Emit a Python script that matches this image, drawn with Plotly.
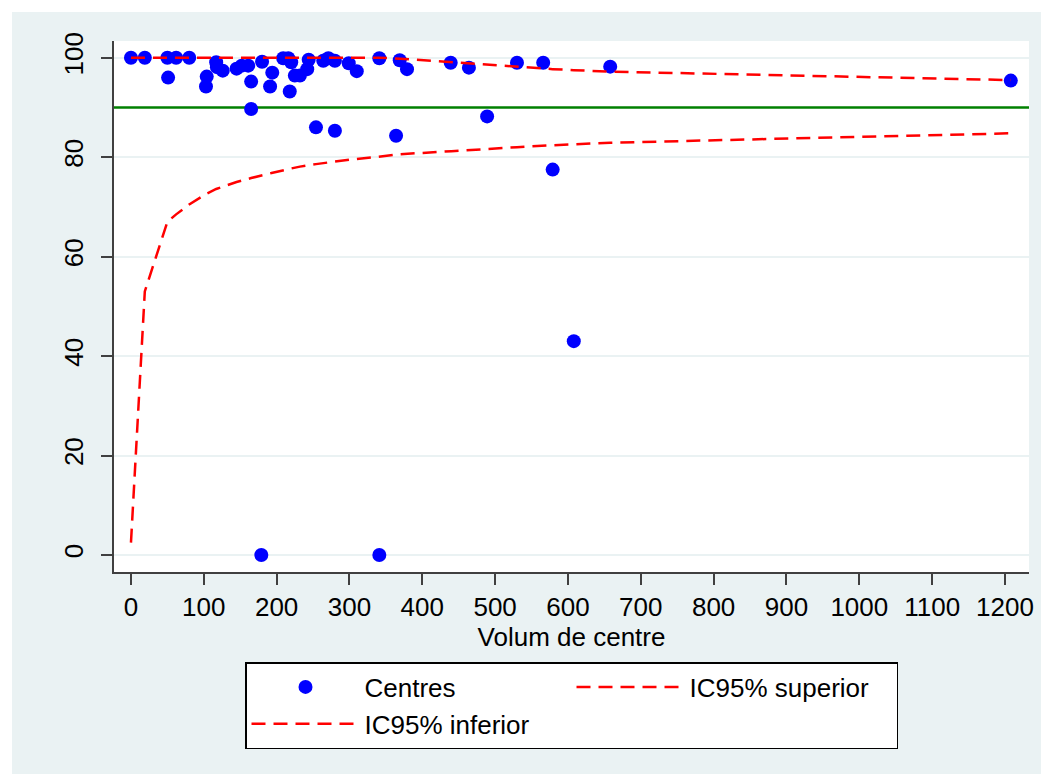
import plotly.graph_objects as go

# ---- data ----
volume = [0, 19, 50, 62, 80, 51, 104, 103, 117, 118, 126, 145, 152, 161, 165, 165,
          180, 194, 191, 209, 216, 220, 218, 225, 232, 242, 244, 264, 271, 280, 299,
          310, 341, 369, 379, 439, 464, 530, 566, 658, 1208, 254, 280, 364, 489, 579,
          608, 179, 341]
percent = [100, 100, 100, 100, 100, 96.0, 96.2, 94.2, 99.1, 98.1, 97.4, 97.8, 98.4, 98.4,
           95.2, 89.7, 99.2, 97.0, 94.2, 99.9, 99.9, 99.1, 93.2, 96.4, 96.4, 97.7, 99.6,
           99.4, 99.9, 99.4, 98.9, 97.3, 99.9, 99.5, 97.7, 99.0, 98.0, 99.0, 99.0, 98.2,
           95.4, 86.0, 85.3, 84.3, 88.2, 77.5, 43.0, 0, 0]

ci_x = [0, 19, 50, 62, 80, 103, 117, 145, 165, 180, 193, 216, 232, 254, 280, 300,
        340, 370, 440, 489, 530, 579, 608, 658, 1208]
ci_upper = [100, 100, 100, 100, 100, 100, 100, 100, 100, 100, 100, 100, 100, 100, 100,
            100, 100, 99.8, 99.1, 98.6, 98.1, 97.7, 97.5, 97.2, 95.5]
ci_lower = [2.5, 53.0, 67.0, 68.5, 70.5, 72.6, 73.6, 75.0, 75.8, 76.4, 76.8, 77.6, 78.1,
            78.6, 79.1, 79.5, 80.1, 80.6, 81.2, 81.7, 82.0, 82.4, 82.6, 82.9, 84.8]

target = 90
x_ticks = [0, 100, 200, 300, 400, 500, 600, 700, 800, 900, 1000, 1100, 1200]
y_ticks = [0, 20, 40, 60, 80, 100]

BG = "#EAF2F3"
AXIS = "#404040"
FONT = "Liberation Sans, Arial, sans-serif"
FS = 26

fig = go.Figure()
fig.add_trace(go.Scatter(
    x=volume, y=percent, mode="markers", name="Centres",
    marker=dict(color="#0000FF", size=14, line=dict(width=0)),
))
fig.add_trace(go.Scatter(
    x=ci_x, y=ci_upper, mode="lines", name="IC95% superior",
    line=dict(color="#FF0000", width=2.5, dash="14px,8px"),
))
fig.add_trace(go.Scatter(
    x=ci_x, y=ci_lower, mode="lines", name="IC95% inferior",
    line=dict(color="#FF0000", width=2.5, dash="14px,8px"),
))

# target reference line
fig.add_shape(type="line", xref="paper", x0=0, x1=1, yref="y", y0=target, y1=target,
              line=dict(color="#008000", width=2.5), layer="below")

# white outer border strips (top / left)
W, H = 1041, 774
L, R, T, B = 114, 12, 41, 202
pw, ph = W - L - R, H - T - B
def px_x(p):
    return (p - L) / pw
def px_y(p):
    return (H - B - p) / ph
fig.add_shape(type="rect", xref="paper", yref="paper", x0=px_x(0), x1=px_x(W),
              y0=px_y(12), y1=px_y(0), fillcolor="white", line=dict(width=0), layer="below")
fig.add_shape(type="rect", xref="paper", yref="paper", x0=px_x(0), x1=px_x(12),
              y0=px_y(H), y1=px_y(0), fillcolor="white", line=dict(width=0), layer="below")

fig.update_layout(
    width=W, height=H,
    margin=dict(l=L, r=R, t=T, b=B, autoexpand=False),
    paper_bgcolor=BG, plot_bgcolor="white",
    font=dict(family=FONT, size=FS, color="black"),
    showlegend=True,
    legend=dict(
        orientation="h", x=0.5, xanchor="center", y=px_y(662), yanchor="top",
        bgcolor="white", bordercolor="black", borderwidth=1.5,
        itemwidth=108, entrywidth=202, font=dict(size=FS, family=FONT),
        itemclick=False,
    ),
)
fig.update_xaxes(
    range=[-23.3, 1233], tickmode="array", tickvals=x_ticks, tickangle=0,
    ticks="outside", ticklen=11, tickwidth=2, tickcolor=AXIS,
    showline=True, linecolor=AXIS, linewidth=2, showgrid=False, zeroline=False,
    tickfont=dict(size=FS), automargin=False,
    title=dict(text="Volum de centre", font=dict(size=FS), standoff=0),
)
fig.update_yaxes(
    range=[-3.42, 103.36], tickmode="array", tickvals=y_ticks, tickangle=-90,
    ticks="outside", ticklen=11, tickwidth=2, tickcolor=AXIS, ticklabelstandoff=8,
    showline=True, linecolor=AXIS, linewidth=2, showgrid=True, gridcolor=BG,
    gridwidth=2, zeroline=False, tickfont=dict(size=FS), automargin=False,
)

fig.write_html("out.html")
